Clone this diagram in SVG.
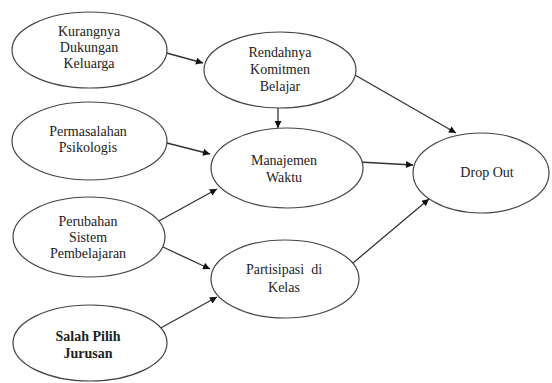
<svg xmlns="http://www.w3.org/2000/svg" width="552" height="383" viewBox="0 0 552 383">
<style>
ellipse{fill:#fff;stroke:#444;stroke-width:1.2}
text{font-family:"Liberation Serif","Times New Roman",serif;font-size:14px;fill:#222;text-anchor:middle}
.b{font-weight:bold}
.c{stroke:#333;stroke-width:1.3;fill:none;marker-end:url(#ah)}
</style>
<defs>
<marker id="ah" viewBox="0 0 10 10" refX="10" refY="5" markerWidth="9" markerHeight="7" markerUnits="userSpaceOnUse" orient="auto">
<path d="M0,0 L10,5 L0,10 z" fill="#111"/>
</marker>
</defs>
<rect width="552" height="383" fill="#fff"/>
<g id="connectors">
<line class="c" x1="163" y1="52" x2="203" y2="63"/>
<line class="c" x1="163" y1="142" x2="210" y2="154"/>
<line class="c" x1="157" y1="222" x2="217" y2="189"/>
<line class="c" x1="163" y1="247" x2="210" y2="269"/>
<line class="c" x1="157" y1="330" x2="217" y2="297"/>
<line class="c" x1="278" y1="108" x2="278" y2="128"/>
<line class="c" x1="355" y1="75" x2="456" y2="133"/>
<line class="c" x1="359" y1="162" x2="413" y2="165"/>
<line class="c" x1="353" y1="263" x2="429" y2="199"/>
</g>
<g id="kurangnya">
<ellipse cx="89.5" cy="50" rx="77.5" ry="38"/>
<text x="89" y="36">Kurangnya</text>
<text x="89" y="52">Dukungan</text>
<text x="89" y="68">Keluarga</text>
</g>
<g id="permasalahan">
<ellipse cx="89.5" cy="141" rx="77.5" ry="39"/>
<text x="88" y="136">Permasalahan</text>
<text x="88" y="152">Psikologis</text>
</g>
<g id="perubahan">
<ellipse cx="89" cy="237" rx="76" ry="40"/>
<text x="88" y="226">Perubahan</text>
<text x="88" y="242">Sistem</text>
<text x="88" y="258">Pembelajaran</text>
</g>
<g id="salah">
<ellipse cx="90" cy="343" rx="77" ry="38"/>
<text class="b" x="88" y="341">Salah Pilih</text>
<text class="b" x="88" y="358">Jurusan</text>
</g>
<g id="rendahnya">
<ellipse cx="280" cy="70" rx="76" ry="38"/>
<text x="280" y="57">Rendahnya</text>
<text x="280" y="74">Komitmen</text>
<text x="280" y="91">Belajar</text>
</g>
<g id="manajemen">
<ellipse cx="287" cy="168" rx="76" ry="40"/>
<text x="284" y="165">Manajemen</text>
<text x="284" y="182">Waktu</text>
</g>
<g id="partisipasi">
<ellipse cx="285" cy="279" rx="74" ry="39"/>
<text x="284" y="274" xml:space="preserve">Partisipasi  di</text>
<text x="284" y="292">Kelas</text>
</g>
<g id="dropout">
<ellipse cx="481" cy="173" rx="68" ry="40"/>
<text x="487" y="177">Drop Out</text>
</g>
</svg>
